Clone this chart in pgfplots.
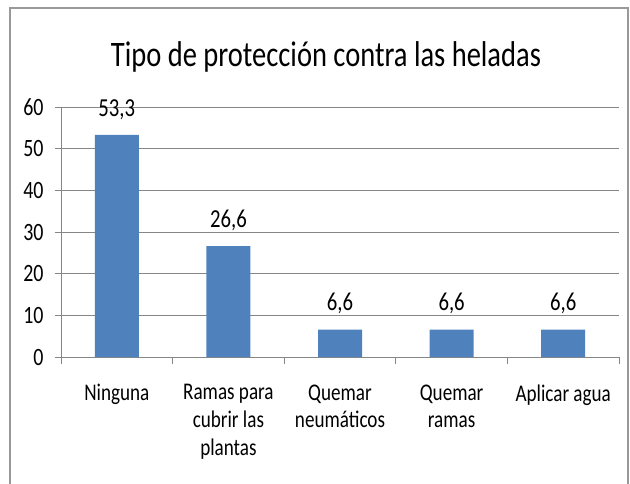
\documentclass[border=0pt]{standalone}
\usepackage{fontspec}
\setmainfont[FakeStretch=0.8]{Carlito}
\newfontfamily\titlefont[FakeStretch=0.795]{Carlito}
\usepackage{pgfplots}
\pgfplotsset{compat=1.18}
\definecolor{barblue}{HTML}{4F81BD}
\definecolor{gridgray}{HTML}{868686}
\begin{document}
\begin{tikzpicture}[x=1bp,y=1bp]
\path[use as bounding box] (0,0) rectangle (630,-484);
\draw[gray!80, line width=1.2bp] (10,-490) -- (10,-8) -- (628,-8) -- (628,-490);
\node[font=\titlefont\fontsize{36}{40}\selectfont, anchor=base] at (326,-67) {Tipo de protección contra las heladas};
\begin{axis}[
  at={(61bp,-357bp)}, anchor=south west,
  scale only axis, width=558bp, height=250bp,
  xmin=-0.5, xmax=4.5, ymin=0, ymax=60,
  ytick={0,10,...,60},
  xtick={0,1,2,3,4},
  xticklabels={Ninguna, Ramas para\\cubrir las\\plantas, Quemar\\neumáticos, Quemar\\ramas, Aplicar agua},
  x tick label style={align=center, font=\fontsize{24}{28}\selectfont, yshift=-18bp},
  y tick label style={font=\fontsize{25}{28}\selectfont, xshift=-8bp},
  major x tick style={draw=none},
  minor xtick={-0.5,0.5,...,4.5},
  minor tick length=7bp,
  major tick length=6bp,
  tick align=outside,
  tick style={gridgray, line width=0.8bp},
  axis x line*=bottom, axis y line*=left,
  axis line style={gridgray, line width=0.8bp, -},
  ymajorgrids, grid style={gridgray, line width=0.8bp},
  /pgf/number format/assume math mode=true,
  ybar, bar width=44bp,
  nodes near coords,
  nodes near coords style={font=\fontsize{26}{28}\selectfont, inner sep=0pt, yshift=15bp,
    /pgf/number format/use comma, /pgf/number format/fixed, /pgf/number format/fixed zerofill, /pgf/number format/precision=1, /pgf/number format/assume math mode=true},
  clip=false,
]
\addplot[fill=barblue, draw=none] coordinates {(0,53.3) (1,26.6) (2,6.6) (3,6.6) (4,6.6)};
\end{axis}
\end{tikzpicture}
\end{document}
